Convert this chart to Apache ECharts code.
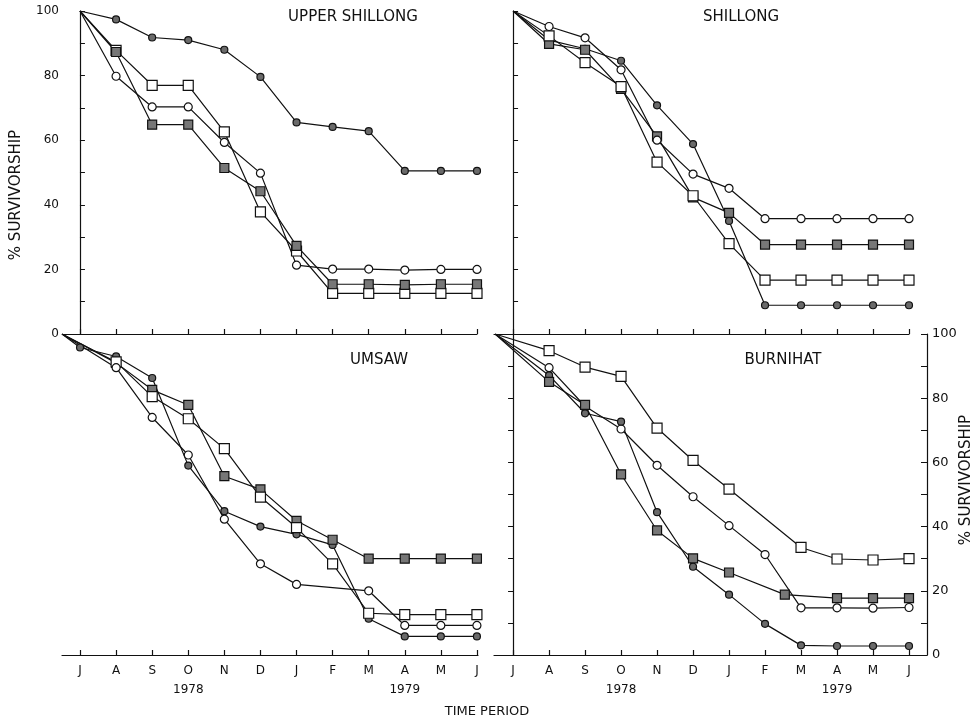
<!DOCTYPE html>
<html><head><meta charset="utf-8">
<script src="https://cdn.jsdelivr.net/npm/echarts@6/dist/echarts.min.js"></script>
<style>html,body{margin:0;padding:0;background:#fff}#c{width:974px;height:723px}</style>
</head><body><div id="c"></div>
<script>
// ---- tick labels / categories ----
const months = ['J','A','S','O','N','D','J','F','M','A','M','J'];
const monthX = [0,1,2,3,4,5,6,7,8,9,10,11];
const yearLabels = {3:'1978', 9:'1979'};
const originX = -0.5;           // bottom panels start at the axis corner
const bottomX = [originX].concat(monthX);

// ---- UPPER SHILLONG (J..J) ----
const usHatchedCircle = [100, 97.4, 91.8, 91.0, 88.0, 79.6, 65.5, 64.1, 62.8, 50.5, 50.5, 50.5];
const usOpenSquare    = [100, 87.8, 77.0, 77.0, 62.6, 37.8, 25.7, 12.6, 12.6, 12.6, 12.6, 12.6];
const usOpenCircle    = [100, 79.8, 70.3, 70.3, 59.3, 49.8, 21.3, 20.1, 20.1, 19.8, 20.0, 20.0];
const usHatchedSquare = [100, 87.3, 64.8, 64.8, 51.4, 44.2, 27.3, 15.4, 15.4, 15.2, 15.4, 15.4];

// ---- SHILLONG (J..J) ----
const shHatchedCircle = [100, 91.0, 88.3, 84.6, 70.8, 58.8, 35.0, 8.9, 8.9, 8.9, 8.9, 8.9];
const shHatchedSquare = [100, 89.8, 88.0, 75.9, 61.2, 42.3, 37.5, 27.7, 27.7, 27.7, 27.7, 27.7];
const shOpenSquare    = [100, 92.3, 84.0, 76.6, 53.2, 42.8, 28.0, 16.7, 16.7, 16.7, 16.7, 16.7];
const shOpenCircle    = [100, 95.2, 91.7, 81.8, 60.0, 49.5, 45.1, 35.7, 35.7, 35.7, 35.7, 35.7];

// ---- UMSAW (origin, J..J) ----
const umHatchedCircle = [100, 95.8, 93.0, 86.3, 59.0, 44.8, 40.0, 37.6, 34.3, 11.3, 5.8, 5.8, 5.8];
const umHatchedSquare = [100, null, 91.0, 82.6, 77.9, 55.7, 51.6, 41.8, 35.9, 30.0, 30.0, 30.0, 30.0];
const umOpenSquare    = [100, null, 91.3, 80.5, 73.6, 64.3, 49.2, 39.7, 28.4, 13.0, 12.6, 12.6, 12.6];
const umOpenCircle    = [100, null, 89.5, 74.0, 62.3, 42.3, 28.4, 22.0, null, 20.0, 9.2, 9.2, 9.2];

// ---- BURNIHAT (origin, J..J) ----
const bhOpenSquare    = [100, null, 94.8, 89.7, 86.8, 70.7, 60.6, 51.7, null, 33.5, 29.9, 29.6, 30.0];
const bhOpenCircle    = [100, null, 89.5, 77.5, 70.4, 59.1, 49.3, 40.3, 31.3, 14.7, 14.7, 14.6, 14.8];
const bhHatchedCircle = [100, null, 87.1, 75.3, 72.7, 44.5, 27.5, 18.8, 9.7, 3.0, 2.8, 2.8, 2.8];
const bhHatchedSquareX = [originX, 1, 2, 3, 4, 5, 6, 7.55, 9, 10, 11];
const bhHatchedSquare  = [100, 85.1, 77.9, 56.3, 38.8, 30.1, 25.7, 18.8, 17.7, 17.7, 17.7];

const INK = '#111';
const FONT = 'DejaVu Sans';
const styles = {
  oc: {symbol:'circle', symbolSize:8, itemStyle:{color:'#fff', borderColor:INK, borderWidth:1.2}},
  os: {symbol:'rect', symbolSize:10, itemStyle:{color:'#fff', borderColor:INK, borderWidth:1.2}},
  hc: {symbol:'circle', symbolSize:7, itemStyle:{color:'#6a6a6a', borderColor:INK, borderWidth:1.2}},
  hs: {symbol:'rect', symbolSize:9, itemStyle:{color:'#777', borderColor:INK, borderWidth:1.2}}
};
function mk(kind, xs, ys, idx, name) {
  const data = [];
  ys.forEach((v, i) => {
    if (v === null) return;
    const d = {value:[xs[i], v]};
    if (i === 0) d.symbol = 'none';
    data.push(d);
  });
  return Object.assign({
    name: name, type:'line', xAxisIndex: idx, yAxisIndex: idx, data: data,
    connectNulls: true, silent: true, animation: false,
    lineStyle:{color:INK, width:1.2}, z: 3
  }, JSON.parse(JSON.stringify(styles[kind])));
}

const grids = [
  {left:63, top:11, width:414, height:323},
  {left:494, top:11, width:415, height:323},
  {left:62, top:334, width:416, height:321},
  {left:494, top:334, width:433, height:321}
];
const xRanges = [[-0.47, 11], [-0.53, 11], [-0.5, 11.03], [-0.53, 11.5]];

const axisLine = {show:true, lineStyle:{color:INK, width:1.2}};
const xAxes = xRanges.map((r, i) => ({
  gridIndex:i, type:'value', min:r[0], max:r[1],
  axisLine: axisLine, splitLine:{show:false},
  axisTick:{show:true, inside:true, length:5, customValues:monthX, lineStyle:{color:INK, width:1.2}},
  axisLabel: i < 2 ? {show:false} : {
    show:true, customValues:monthX, margin:6, color:INK, fontFamily:FONT, fontSize:12, lineHeight:19,
    formatter: v => { const k = Math.round(v); return months[k] + (yearLabels[k] ? '\n' + yearLabels[k] : ''); }
  }
}));

const yBase = {type:'value', min:0, max:100, interval:10, splitLine:{show:false}};
const yAxes = [
  Object.assign({gridIndex:0, axisLine:axisLine,
    axisTick:{show:true, inside:true, length:5, lineStyle:{color:INK}},
    axisLabel:{show:true, color:INK, fontFamily:FONT, fontSize:12, margin:4,
      formatter: v => (v % 20 === 0 ? String(v) : '')}}, yBase),
  Object.assign({gridIndex:1, axisLine:axisLine,
    axisTick:{show:true, inside:true, length:5, lineStyle:{color:INK}},
    axisLabel:{show:false}}, yBase),
  Object.assign({gridIndex:2, axisLine:{show:false}, axisTick:{show:false}, axisLabel:{show:false}}, yBase),
  Object.assign({gridIndex:3, position:'left', axisLine:axisLine,
    axisTick:{show:true, inside:false, length:5, lineStyle:{color:INK}},
    axisLabel:{show:false}}, yBase),
  Object.assign({gridIndex:3, position:'right', axisLine:axisLine,
    axisTick:{show:true, inside:true, length:6, lineStyle:{color:INK}},
    axisLabel:{show:true, color:INK, fontFamily:FONT, fontSize:13, margin:5,
      formatter: v => (v % 20 === 0 ? String(v) : '')}}, yBase)
];

const series = [
  mk('hc', monthX, usHatchedCircle, 0, 'US hc'),
  mk('os', monthX, usOpenSquare, 0, 'US os'),
  mk('oc', monthX, usOpenCircle, 0, 'US oc'),
  mk('hs', monthX, usHatchedSquare, 0, 'US hs'),
  mk('hc', monthX, shHatchedCircle, 1, 'SH hc'),
  mk('hs', monthX, shHatchedSquare, 1, 'SH hs'),
  mk('os', monthX, shOpenSquare, 1, 'SH os'),
  mk('oc', monthX, shOpenCircle, 1, 'SH oc'),
  mk('hc', bottomX, umHatchedCircle, 2, 'UM hc'),
  mk('hs', bottomX, umHatchedSquare, 2, 'UM hs'),
  mk('os', bottomX, umOpenSquare, 2, 'UM os'),
  mk('oc', bottomX, umOpenCircle, 2, 'UM oc'),
  mk('os', bottomX, bhOpenSquare, 3, 'BH os'),
  mk('oc', bottomX, bhOpenCircle, 3, 'BH oc'),
  mk('hc', bottomX, bhHatchedCircle, 3, 'BH hc'),
  mk('hs', bhHatchedSquareX, bhHatchedSquare, 3, 'BH hs')
];

function txt(t, x, y, size, rot) {
  return {type:'text', x:x, y:y, rotation: rot || 0, z:10, silent:true,
    style:{text:t, fill:INK, font: size + 'px "' + FONT + '"', align:'center', verticalAlign:'middle'}};
}

const chart = echarts.init(document.getElementById('c'), null, {renderer:'canvas'});
chart.setOption({
  backgroundColor:'#fff',
  animation:false,
  grid: grids,
  xAxis: xAxes,
  yAxis: yAxes,
  series: series,
  graphic: [
    txt('UPPER SHILLONG', 353, 17, 15),
    txt('SHILLONG', 741, 17, 15),
    txt('UMSAW', 379, 360, 15),
    txt('BURNIHAT', 783, 360, 15),
    txt('% SURVIVORSHIP', 16, 195, 15, Math.PI/2),
    txt('% SURVIVORSHIP', 966, 480, 15, Math.PI/2),
    txt('TIME PERIOD', 487, 712, 13)
  ]
});
</script>
</body></html>
